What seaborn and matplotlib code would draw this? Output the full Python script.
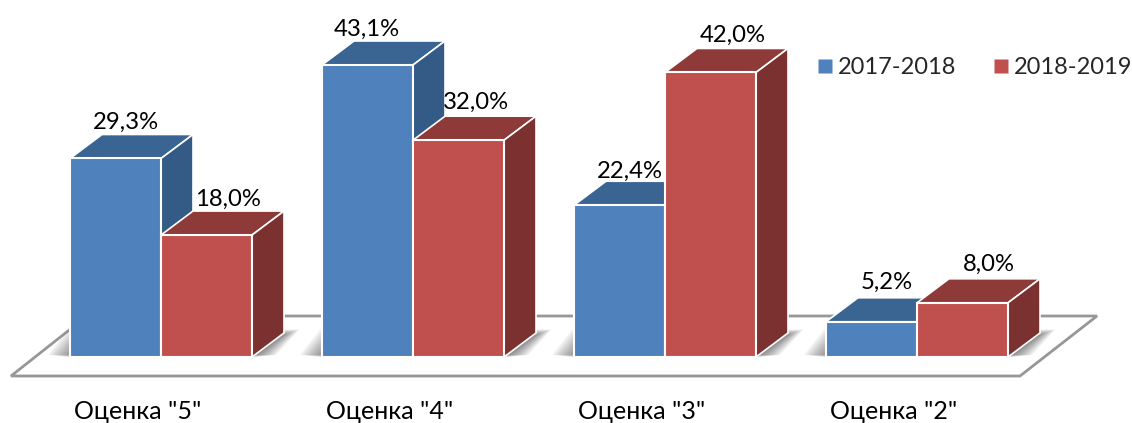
import matplotlib
matplotlib.use("Agg")
import matplotlib.pyplot as plt
import matplotlib.colors as mc
from matplotlib.lines import Line2D
from matplotlib.patches import Polygon
from matplotlib.transforms import ScaledTranslation
import pandas as pd
import seaborn as sns

categories = ['Оценка "5"', 'Оценка "4"', 'Оценка "3"', 'Оценка "2"']
series_a_name = "2017-2018"
series_b_name = "2018-2019"
series_a = [29.3, 43.1, 22.4, 5.2]
series_b = [18.0, 32.0, 42.0, 8.0]

# label nudges in pixels (style only)
label_dx_a = [10, -1, 10, 15]
label_dx_b = [21, 17, 22, 26]
label_dy_a = [36, 36, 34, 39]
label_dy_b = [36, 38, 37, 38]

W, H = 1132, 423
BASE = 357
PX_X = 252.0            # px per category
PX_Y = 292 / 43.1       # px per percent
CX0 = 161
DEPTH_X, DEPTH_Y = 32, 24

sns.set_theme(style="white")
plt.rcParams["font.family"] = ["Lato", "Open Sans", "DejaVu Sans"]
FS = 17.2
FS_TICK = 18

BLUE, RED = "#4f81bd", "#c0504d"
TOP = {BLUE: "#3A6491", RED: "#8E3A39"}
SIDE = {BLUE: "#345A86", RED: "#7B3130"}

df = pd.DataFrame({
    "cat": categories * 2,
    "val": series_a + series_b,
    "period": [series_a_name] * 4 + [series_b_name] * 4,
})

fig = plt.figure(figsize=(W / 100, H / 100), dpi=100, facecolor="white")
ax = fig.add_axes([0, (H - BASE) / H, 1, BASE / H])
sns.barplot(data=df, x="cat", y="val", hue="period", palette=[BLUE, RED],
            width=182 / 252, gap=0, saturation=1, edgecolor="white",
            linewidth=1.5, ax=ax, legend=False, zorder=5)
ax.set_xlim(-CX0 / PX_X, (W - CX0) / PX_X)
ax.set_ylim(0, BASE / PX_Y)
ax.set_xlabel("")
ax.set_ylabel("")
ax.set_yticks([])
sns.despine(ax=ax, left=True, bottom=True, top=True, right=True)
ax.patch.set_alpha(0)

ax.tick_params(axis="x", length=0, pad=31, labelsize=FS_TICK, colors="black")
shift = ScaledTranslation(-23 / 100, 0, fig.dpi_scale_trans)
for lab in ax.get_xticklabels():
    lab.set_transform(lab.get_transform() + shift)


def fx(px):
    return px / W


def fy(py):
    return (BASE - py) / BASE


# floor
floor = Polygon([(fx(11), fy(376)), (fx(1020), fy(376)), (fx(1097), fy(316)), (fx(87), fy(316))],
                closed=True, transform=ax.transAxes, facecolor="white",
                edgecolor="#979797", linewidth=2, clip_on=False, zorder=1)
bars = [p for p in ax.patches if p.get_height() > 0]
ax.add_patch(floor)

dx = DEPTH_X / PX_X
dy = DEPTH_Y / PX_Y
n = len(categories)
bars_a, bars_b = bars[:n], bars[n:]

# soft shadow on the floor around each pair
for a, b in zip(bars_a, bars_b):
    x0 = a.get_x()
    x1 = b.get_x() + b.get_width()
    for k in range(12):
        g = (11 - k) * 2.0
        low = (2 - k * 0.2) / PX_Y
        high = (22 + (11 - k) * 0.5) / PX_Y
        ax.add_patch(Polygon(
            [(x0 - g / PX_X, low), (x1 + (g + 2) / PX_X, low),
             (x1 + (DEPTH_X + g * 0.7) / PX_X, high), (x0 + (20 - g) / PX_X, high)],
            closed=True, facecolor="#303030", alpha=0.06, edgecolor="none",
            zorder=1.5, clip_on=False))


def draw_3d(bar, z):
    color = mc.to_hex(bar.get_facecolor())
    x, w, h = bar.get_x(), bar.get_width(), bar.get_height()
    ax.add_patch(Polygon([(x, h), (x + w, h), (x + w + dx, h + dy), (x + dx, h + dy)],
                         closed=True, facecolor=TOP[color], edgecolor="white",
                         linewidth=1.2, zorder=z, clip_on=False))
    ax.add_patch(Polygon([(x + w, 0), (x + w + dx, dy), (x + w + dx, h + dy), (x + w, h)],
                         closed=True, facecolor=SIDE[color], edgecolor="white",
                         linewidth=1.2, zorder=z, clip_on=False))
    bar.set_zorder(z + 0.1)
    bar.set_clip_on(False)


for a, b in zip(bars_a, bars_b):
    draw_3d(a, 3)
    draw_3d(b, 4)

# value labels
for bar_set, vals, nudges, lifts in ((bars_a, series_a, label_dx_a, label_dy_a),
                                     (bars_b, series_b, label_dx_b, label_dy_b)):
    for bar, v, nd, lf in zip(bar_set, vals, nudges, lifts):
        ax.annotate(f"{v:.1f}%".replace(".", ","),
                    (bar.get_x() + bar.get_width() / 2, bar.get_height()),
                    xytext=(nd * 0.72, lf * 0.72), textcoords="offset points",
                    ha="center", va="center", fontsize=FS, color="black",
                    zorder=10, annotation_clip=False)

handles = [Line2D([], [], linestyle="", marker="s", markersize=10, color=c,
                  markeredgecolor="none") for c in (BLUE, RED)]
leg = ax.legend(handles, [series_a_name, series_b_name], ncol=2, frameon=False,
                fontsize=17, loc="center left",
                bbox_to_anchor=(fx(818), fy(68)), borderpad=0, borderaxespad=0,
                handletextpad=0.25, columnspacing=1.6, handlelength=0.6)
leg.set_zorder(10)

fig.savefig("out.png", dpi=100, facecolor="white")
